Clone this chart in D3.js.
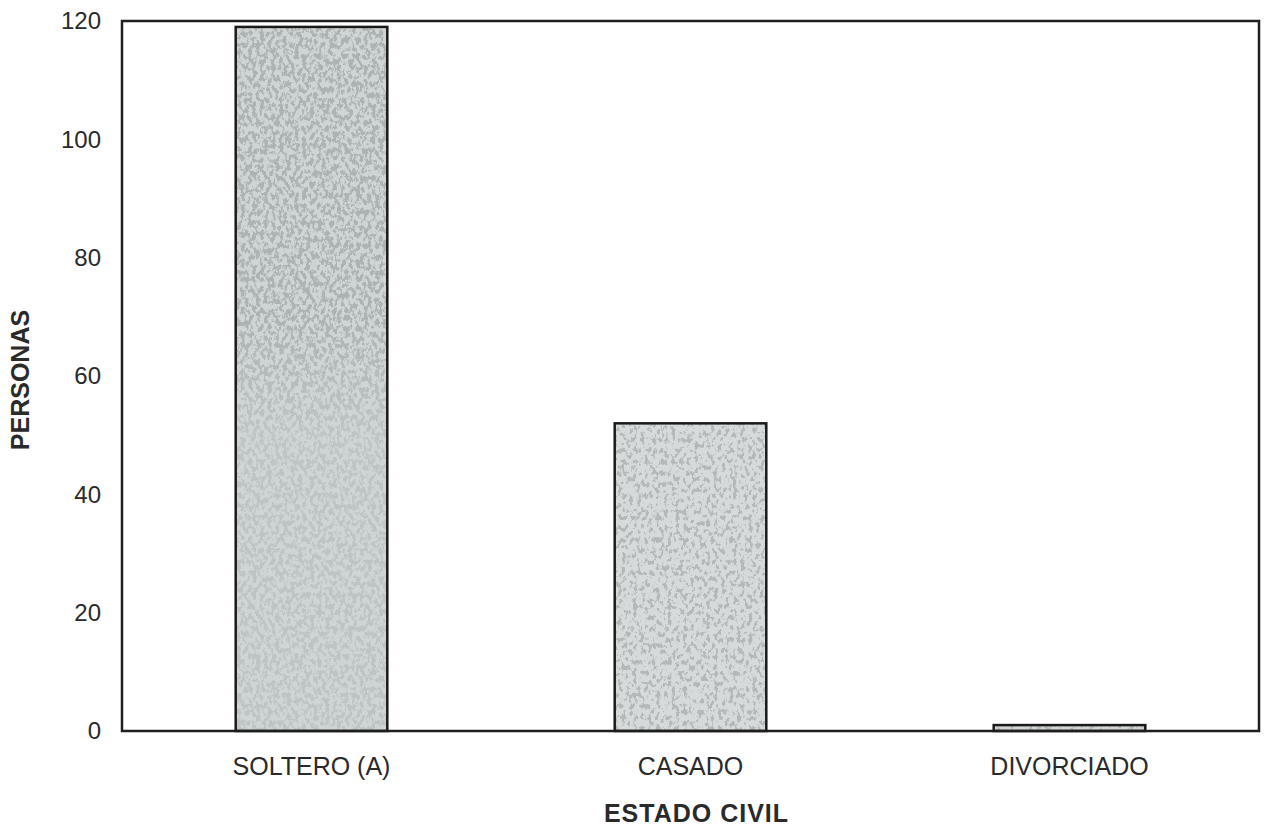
<!DOCTYPE html>
<html>
<head>
<meta charset="utf-8">
<script src="https://cdn.jsdelivr.net/npm/d3@7"></script>
<style>
  body { margin: 0; background: #fff; }
  svg { display: block; }
  text { font-family: "Liberation Sans", Arial, sans-serif; fill: #2a2a2a; }
</style>
</head>
<body>
<div id="chart"></div>
<script>
// ---- data ----
const categories = ["SOLTERO (A)", "CASADO", "DIVORCIADO"];
const personas = [119, 52, 1];
const yTicks = [0, 20, 40, 60, 80, 100, 120];
const xTitle = "ESTADO CIVIL";
const yTitle = "PERSONAS";

// ---- layout ----
const W = 1267, H = 834;
const m = { top: 21, right: 8, bottom: 103, left: 122 };
const iw = W - m.left - m.right, ih = H - m.top - m.bottom;

const svg = d3.select("#chart").append("svg").attr("width", W).attr("height", H);
const defs = svg.append("defs");

// speckle texture filter (styling only)
function speckle(id, seed, freq, slope, offset, col) {
  const f = defs.append("filter").attr("id", id)
    .attr("x", 0).attr("y", 0).attr("width", 1).attr("height", 1)
    .attr("filterUnits", "objectBoundingBox");
  f.append("feTurbulence").attr("type", "fractalNoise")
    .attr("baseFrequency", freq).attr("numOctaves", 4).attr("seed", seed).attr("result", "n");
  f.append("feColorMatrix").attr("in", "n").attr("type", "matrix")
    .attr("values", `0 0 0 0 ${col[0]}  0 0 0 0 ${col[1]}  0 0 0 0 ${col[2]}  ${slope} 0 0 0 ${offset}`)
    .attr("result", "c");
  f.append("feComposite").attr("in", "c").attr("in2", "SourceGraphic").attr("operator", "in");
}
speckle("sp1", 7, "0.26 0.18", 10, -4.7, [0.42, 0.45, 0.45]);
speckle("sp2", 11, "0.26 0.18", 10, -5.25, [0.45, 0.48, 0.48]);

// density mask for first bar (darker in upper part)
const lg = defs.append("linearGradient").attr("id", "fade").attr("x1", 0).attr("y1", 0).attr("x2", 0).attr("y2", 1);
lg.append("stop").attr("offset", "0%").attr("stop-color", "#fff");
lg.append("stop").attr("offset", "42%").attr("stop-color", "#fff");
lg.append("stop").attr("offset", "58%").attr("stop-color", "#7a7a7a");
lg.append("stop").attr("offset", "100%").attr("stop-color", "#808080");
defs.append("mask").attr("id", "m1").attr("maskContentUnits", "objectBoundingBox")
  .append("rect").attr("width", 1).attr("height", 1).attr("fill", "url(#fade)");

const baseFill = ["#cfd4d4", "#d6dada", "#d2d6d6"];
const overlay = ["url(#sp1)", "url(#sp2)", "url(#sp2)"];

const g = svg.append("g").attr("transform", `translate(${m.left},${m.top})`);

const x = d3.scaleBand().domain(categories).range([0, iw]).paddingInner(0.6).paddingOuter(0.3);
const y = d3.scaleLinear().domain([0, 120]).range([ih, 0]);

const rows = categories.map((c, i) => ({ c, v: personas[i], i }));

// bars: base
g.selectAll("rect.base").data(rows).join("rect").attr("class", "base")
  .attr("x", d => x(d.c)).attr("y", d => y(d.v))
  .attr("width", x.bandwidth()).attr("height", d => y(0) - y(d.v))
  .attr("fill", d => baseFill[d.i]);
// bars: speckle overlay
g.selectAll("rect.tex").data(rows).join("rect").attr("class", "tex")
  .attr("x", d => x(d.c)).attr("y", d => y(d.v))
  .attr("width", x.bandwidth()).attr("height", d => y(0) - y(d.v))
  .attr("fill", "#000")
  .attr("filter", d => overlay[d.i])
  .attr("mask", d => d.i === 0 ? "url(#m1)" : null);
// bars: outline
g.selectAll("rect.out").data(rows).join("rect").attr("class", "out")
  .attr("x", d => x(d.c)).attr("y", d => y(d.v))
  .attr("width", x.bandwidth()).attr("height", d => y(0) - y(d.v))
  .attr("fill", "none").attr("stroke", "#1a1a1a").attr("stroke-width", 2.5);

// frame
g.append("rect").attr("x", 0).attr("y", 0).attr("width", iw).attr("height", ih)
  .attr("fill", "none").attr("stroke", "#1e1e1e").attr("stroke-width", 2.5);

// y axis
const ya = g.append("g").call(d3.axisLeft(y).tickValues(yTicks).tickSize(0).tickPadding(21));
ya.select(".domain").remove();
ya.selectAll("text").style("font-size", "24px").attr("fill", "#2a2a2a");

// x axis
const xa = g.append("g").attr("transform", `translate(0,${ih})`)
  .call(d3.axisBottom(x).tickSize(0).tickPadding(26));
xa.select(".domain").remove();
xa.selectAll("text").style("font-size", "25px").attr("fill", "#2a2a2a");

// titles
svg.append("text").attr("x", m.left + x("CASADO") + x.bandwidth() / 2 + 6).attr("y", 822)
  .attr("text-anchor", "middle").style("font-size", "25px").style("font-weight", "bold")
  .style("letter-spacing", "1px").text(xTitle);
svg.append("text").attr("transform", `translate(29,${380}) rotate(-90)`)
  .attr("text-anchor", "middle").style("font-size", "25px").style("font-weight", "bold")
  .text(yTitle);
</script>
</body>
</html>
